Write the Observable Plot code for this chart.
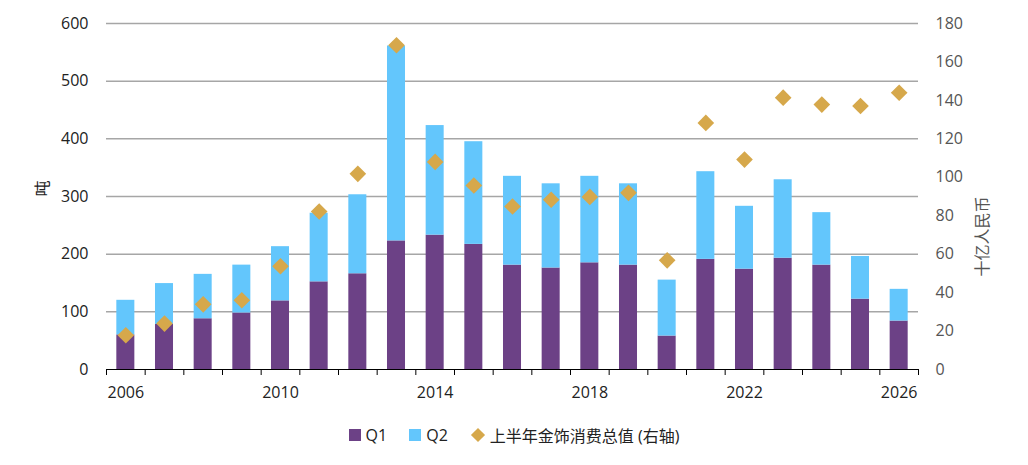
<!DOCTYPE html>
<html><head><meta charset="utf-8">
<script src="https://cdn.jsdelivr.net/npm/d3@7"></script>
<script src="https://cdn.jsdelivr.net/npm/@observablehq/plot@0.6"></script>
<style>
body{margin:0;background:#fff;font-family:"Open Sans","Noto Sans CJK SC",sans-serif;}
#legend{display:flex;justify-content:center;align-items:center;font-size:16px;color:#222;margin-top:13px;padding-left:0px;}
.item{display:flex;align-items:center;margin:0 11px;}
.sw{width:12px;height:12px;margin-right:5px;}
.dm{width:10px;height:10px;transform:rotate(45deg);margin-right:7px;margin-left:3px;}
</style></head><body>
<div id="chart"></div>
<div id="legend"></div>
<script>
const years = d3.range(2006, 2027);
const q1 = [60,78,88,98,119,152,166,223,233,217,181,176,185,181,58,191,174,193,181,122,84];
const total = [120,149,165,181,213,271,303,561,423,395,335,322,335,322,155,343,283,329,272,196,139];
const valueRMB = [17.8,23.9,33.9,36,53.7,82.2,101.8,168.7,108,95.7,84.8,88.3,89.8,91.9,56.8,128.3,109.2,141.4,137.8,137.1,144];
const leftTicks = [0,100,200,300,400,500,600];
const rightTicks = [0,20,40,60,80,100,120,140,160,180];
const labelYears = [2006,2010,2014,2018,2022,2026];
const colors = {Q1:"#6c4186", Q2:"#63c6fc", val:"#d6a84b"};

const bars = [];
years.forEach((y,i)=>{
  bars.push({year:y, q:"Q1", v:q1[i]});
  bars.push({year:y, q:"Q2", v:total[i]-q1[i]});
});
const pts = years.map((y,i)=>({year:y, v:valueRMB[i]}));
const k = 600/180;
const hw = 0.233;

const chart = Plot.plot({
  width:1028, height:410,
  marginLeft:106, marginRight:110, marginTop:23, marginBottom:41,
  style:{fontFamily:'"Open Sans","Noto Sans CJK SC",sans-serif', fontSize:"16px", color:"#222"},
  x:{domain:[2005.5,2026.5], axis:null},
  y:{domain:[0,600], axis:null},
  marks:[
    Plot.ruleY(leftTicks.filter(d=>d>0), {stroke:"#a6a6a6", strokeWidth:1.5}),
    Plot.rectY(bars, {x1:d=>d.year-hw, x2:d=>d.year+hw, y:"v", fill:d=>colors[d.q]}),
    Plot.ruleY([0], {stroke:"#000", strokeWidth:1.2}),
    Plot.axisX(d3.range(2005.5,2027,1), {tickSize:6, tickFormat:()=>"", stroke:"#000", label:null}),
    Plot.axisX(labelYears, {tickSize:0, tickPadding:17, tickFormat:d=>String(d), fill:"#222", fontSize:16, label:null}),
    Plot.axisY(leftTicks, {anchor:"left", tickSize:0, tickPadding:18, fill:"#222", fontSize:16, label:null}),
    Plot.axisY(rightTicks.map(d=>d*k), {anchor:"right", tickSize:0, tickPadding:17, tickFormat:d=>String(Math.round(d/k)), fill:"#555", fontSize:16, label:null}),
    Plot.dot(pts, {x:"year", y:d=>d.v*k, symbol:"diamond2", r:7.5, fill:colors.val, stroke:"none"}),
    Plot.text(["吨"], {frameAnchor:"left", dx:-64, rotate:-90, fontSize:16, fill:"#222"}),
    Plot.text(["十亿人民币"], {frameAnchor:"right", dx:64, rotate:-90, fontSize:16, fill:"#555"})
  ]
});
document.getElementById("chart").appendChild(chart);

const legend = document.getElementById("legend");
[["Q1","sw",colors.Q1],["Q2","sw",colors.Q2],["上半年金饰消费总值 (右轴)","dm",colors.val]].forEach(([t,c,col])=>{
  const it=document.createElement("div"); it.className="item";
  const s=document.createElement("div"); s.className=c; s.style.background=col;
  const l=document.createElement("span"); l.textContent=t;
  it.appendChild(s); it.appendChild(l); legend.appendChild(it);
});
</script>
</body></html>
